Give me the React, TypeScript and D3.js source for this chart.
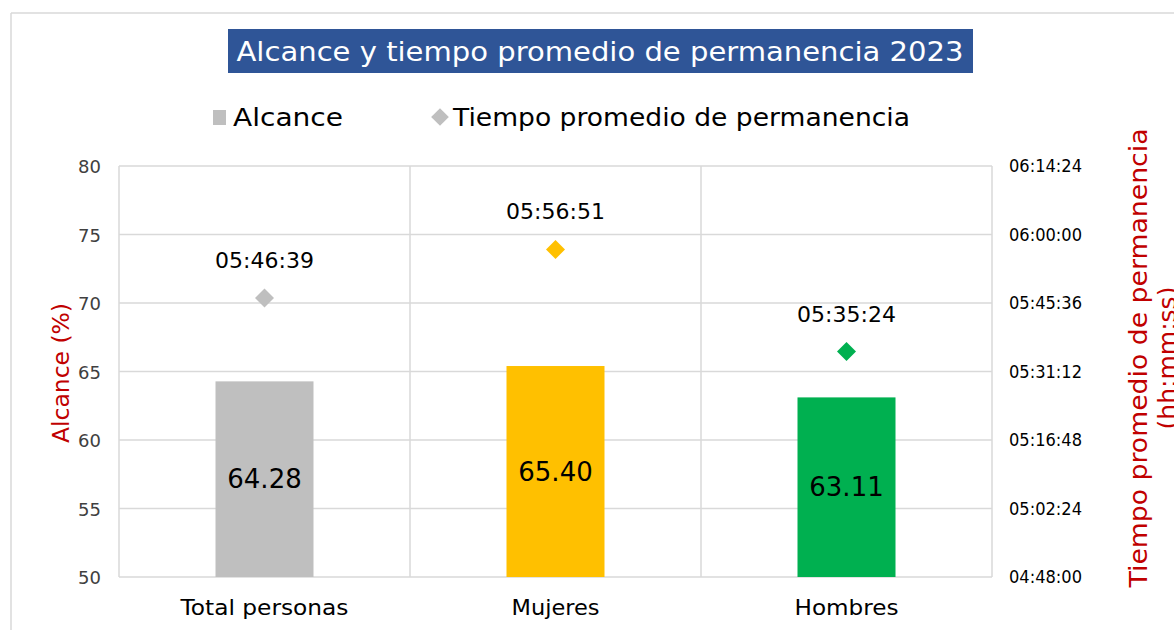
import React from "react";
import * as d3 from "d3";

const categories = ["Total personas", "Mujeres", "Hombres"];
const alcance = [64.28, 65.4, 63.11];
const tiempoLabels = ["05:46:39", "05:56:51", "05:35:24"];
const barColors = ["#bfbfbf", "#ffc000", "#00b050"];
const leftTicks = [50, 55, 60, 65, 70, 75, 80];
const rightTickLabels = ["04:48:00", "05:02:24", "05:16:48", "05:31:12", "05:45:36", "06:00:00", "06:14:24"];

const toSec = (s: string) => {
  const [h, m, x] = s.split(":").map(Number);
  return h * 3600 + m * 60 + x;
};

const FONT = "'DejaVu Sans', sans-serif";

export default function App() {
  const W = 1174, H = 630;
  const left = 119, right = 992, top = 166, bottom = 577;
  const x = d3.scaleBand().domain(categories).range([left, right]).paddingInner(0).paddingOuter(0);
  const y = d3.scaleLinear().domain([50, 80]).range([bottom, top]);
  const rightSecs = rightTickLabels.map(toSec);
  const y2 = d3.scaleLinear().domain([rightSecs[0], rightSecs[rightSecs.length - 1]]).range([bottom, top]);
  const barW = 98;
  const grid = "#d9d9d9";
  const red = "#c00000";
  const catWidths = [168, 88, 104];

  return (
    <svg width={W} height={H} style={{ position: "absolute", left: 0, top: 0 }}>
      <rect x={0} y={0} width={W} height={H} fill="#fff" />
      <line x1={11} y1={13} x2={W} y2={13} stroke={grid} strokeWidth={1.5} />
      <line x1={11} y1={13} x2={11} y2={H} stroke={grid} strokeWidth={1.5} />
      {/* title */}
      <rect x={228} y={29} width={745} height={44} fill="#2f5597" />
      <text x={600} y={61} textAnchor="middle" fill="#fff" fontFamily={FONT} fontSize={26} textLength={727} lengthAdjust="spacingAndGlyphs">
        Alcance y tiempo promedio de permanencia 2023
      </text>
      {/* legend */}
      <rect x={213} y={110} width={13} height={15} fill="#bfbfbf" />
      <text x={233} y={126} fontFamily={FONT} fontSize={25} fill="#000" textLength={110} lengthAdjust="spacingAndGlyphs">Alcance</text>
      <path d={d3.symbol(d3.symbolDiamond2, 200)() || ""} transform="translate(440,117)" fill="#bfbfbf" />
      <text x={453} y={126} fontFamily={FONT} fontSize={25} fill="#000" textLength={457} lengthAdjust="spacingAndGlyphs">Tiempo promedio de permanencia</text>
      {/* grid */}
      {leftTicks.map((t) => (
        <line key={"h" + t} x1={left} x2={right} y1={y(t)} y2={y(t)} stroke={grid} strokeWidth={1.5} />
      ))}
      {[...categories.map((c) => x(c) as number), right].map((v, i) => (
        <line key={"v" + i} x1={v} x2={v} y1={top} y2={bottom} stroke={grid} strokeWidth={1.5} />
      ))}
      {/* bars */}
      {categories.map((c, i) => {
        const cx = (x(c) as number) + x.bandwidth() / 2;
        return (
          <g key={c}>
            <rect x={cx - barW / 2} y={y(alcance[i])} width={barW} height={bottom - y(alcance[i])} fill={barColors[i]} />
            <text x={cx} y={(y(alcance[i]) + bottom) / 2 + 9} textAnchor="middle" fontFamily={FONT} fontSize={26} fill="#000">
              {alcance[i].toFixed(2)}
            </text>
            <path d={d3.symbol(d3.symbolDiamond2, 230)() || ""} transform={`translate(${cx},${y2(toSec(tiempoLabels[i]))})`} fill={barColors[i]} />
            <text x={cx} y={y2(toSec(tiempoLabels[i])) - 30} textAnchor="middle" fontFamily={FONT} fontSize={22} fill="#000">
              {tiempoLabels[i]}
            </text>
            <text x={cx} y={615} textAnchor="middle" fontFamily={FONT} fontSize={22} fill="#000" textLength={catWidths[i]} lengthAdjust="spacingAndGlyphs">
              {c}
            </text>
          </g>
        );
      })}
      {/* left ticks */}
      {leftTicks.map((t) => (
        <text key={"l" + t} x={101} y={y(t) + 7} textAnchor="end" fontFamily={FONT} fontSize={18} fill="#404040">
          {t}
        </text>
      ))}
      {/* right ticks */}
      {rightTickLabels.map((t, i) => (
        <text key={"r" + t} x={1009} y={y2(rightSecs[i]) + 6} fontFamily={FONT} fontSize={17} fill="#000" textLength={73} lengthAdjust="spacingAndGlyphs">
          {t}
        </text>
      ))}
      {/* axis titles */}
      <text transform="translate(69,373) rotate(-90)" textAnchor="middle" fontFamily={FONT} fontSize={23} fill={red} textLength={140} lengthAdjust="spacingAndGlyphs">
        Alcance (%)
      </text>
      <text transform="translate(1147,358) rotate(-90)" textAnchor="middle" fontFamily={FONT} fontSize={25} fill={red} textLength={459} lengthAdjust="spacingAndGlyphs">
        Tiempo promedio de permanencia
      </text>
      <text transform="translate(1176,358) rotate(-90)" textAnchor="middle" fontFamily={FONT} fontSize={25} fill={red}>
        (hh:mm:ss)
      </text>
    </svg>
  );
}
